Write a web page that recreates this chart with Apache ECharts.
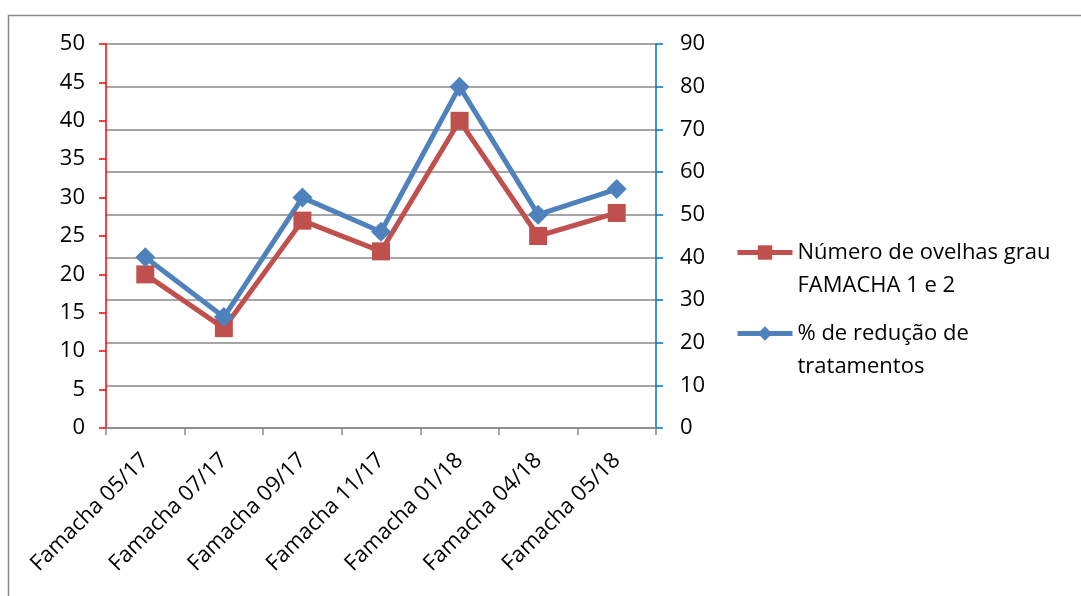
<!DOCTYPE html>
<html>
<head>
<meta charset="utf-8">
<script src="https://cdn.jsdelivr.net/npm/echarts@6/dist/echarts.min.js"></script>
<style>
  html, body { margin: 0; padding: 0; background: #fff; }
  #chart { width: 1081px; height: 596px; }
</style>
</head>
<body>
<div id="chart"></div>
<script>
// Sampling dates
const categories = ['Famacha 05/17', 'Famacha 07/17', 'Famacha 09/17', 'Famacha 11/17', 'Famacha 01/18', 'Famacha 04/18', 'Famacha 05/18'];
// Sheep with FAMACHA score 1 or 2 (left axis)
const ovelhas = [20, 13, 27, 23, 40, 25, 28];
// Percentage reduction in treatments (right axis)
const reducao = [40, 26, 54, 46, 80, 50, 56];

const nameOvelhas = 'Número de ovelhas grau\nFAMACHA 1 e 2';
const nameReducao = '% de redução de\ntratamentos';

const FONT = '"Open Sans", sans-serif';
const RED = '#C0504D';
const BLUE = '#4F81BD';
const LINE_H = 33;

// One legend block per series; a leading blank line keeps the icon level
// with the first line of the two-line label.
function legendBlock(name, top) {
  return {
    orient: 'vertical',
    left: 735,
    top: top,
    padding: 0,
    itemWidth: 55,
    itemHeight: 18,
    lineStyle: { width: 5 },
    formatter: (n) => '\n' + n,
    textStyle: { fontSize: 22, color: '#000', lineHeight: LINE_H, fontFamily: FONT },
    data: [name]
  };
}

const chart = echarts.init(document.getElementById('chart'));
chart.setOption({
  animation: false,
  backgroundColor: '#fff',
  textStyle: { fontFamily: FONT },
  graphic: [{
    type: 'rect',
    shape: { x: 8.5, y: 15.5, width: 1200, height: 700 },
    style: { fill: 'none', stroke: '#888', lineWidth: 1.5 },
    silent: true
  }],
  grid: { left: 106, right: 425, top: 44, bottom: 168 },
  legend: [legendBlock(nameOvelhas, 203), legendBlock(nameReducao, 284)],
  xAxis: {
    type: 'category',
    data: categories,
    boundaryGap: true,
    axisLine: { lineStyle: { color: '#888', width: 1.5 } },
    axisTick: { show: true, length: 7, lineStyle: { color: '#888', width: 1.5 } },
    axisLabel: { rotate: 45, fontSize: 22, color: '#000', margin: 29, interval: 0 }
  },
  yAxis: [{
    type: 'value',
    min: 0, max: 50, interval: 5,
    position: 'left',
    axisLine: { show: true, lineStyle: { color: '#FF0000', width: 1.5 } },
    axisTick: { show: true, length: 7, lineStyle: { color: '#FF0000', width: 1.5 } },
    axisLabel: { fontSize: 22, color: '#000', margin: 21 },
    splitLine: { show: false }
  }, {
    type: 'value',
    min: 0, max: 90, interval: 10,
    position: 'right',
    axisLine: { show: true, lineStyle: { color: '#0070C0', width: 1.5 } },
    axisTick: { show: true, length: 7, lineStyle: { color: '#0070C0', width: 1.5 } },
    axisLabel: { fontSize: 22, color: '#000', margin: 24 },
    splitLine: { show: true, lineStyle: { color: '#888', width: 1.5 } }
  }],
  series: [{
    name: nameOvelhas,
    type: 'line',
    yAxisIndex: 0,
    data: ovelhas,
    symbol: 'rect',
    symbolSize: 18,
    lineStyle: { color: RED, width: 5 },
    itemStyle: { color: RED }
  }, {
    name: nameReducao,
    type: 'line',
    yAxisIndex: 1,
    data: reducao,
    symbol: 'diamond',
    symbolSize: 20,
    lineStyle: { color: BLUE, width: 5 },
    itemStyle: { color: BLUE }
  }]
});
</script>
</body>
</html>
